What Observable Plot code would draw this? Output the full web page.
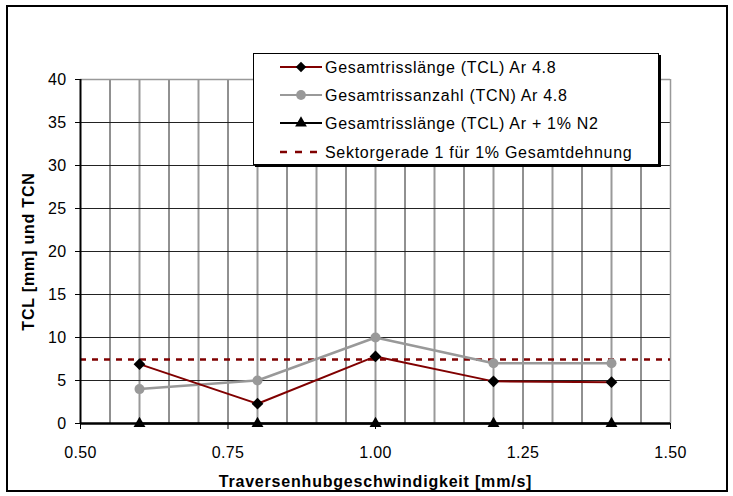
<!DOCTYPE html>
<html>
<head>
<meta charset="utf-8">
<script src="https://cdn.jsdelivr.net/npm/d3@7"></script>
<script src="https://cdn.jsdelivr.net/npm/@observablehq/plot@0.6"></script>
<style>
  html, body { margin: 0; padding: 0; background: #fff; }
  #wrap { position: relative; width: 733px; height: 496px; overflow: hidden; font-family: "Liberation Sans", Arial, sans-serif; }
  #frame { position: absolute; left: 6px; top: 5px; width: 722px; height: 487px; box-sizing: border-box; border: 2px solid #000; pointer-events: none; }
  #chart { position: absolute; left: 0; top: 0; }
  #legend { position: absolute; left: 253px; top: 53px; width: 406px; height: 112px; box-sizing: border-box; border: 1px solid #000; box-shadow: 2px 2px 0 #000; background: #fff; }
  #legend svg { position: absolute; left: 0; top: 0; }
</style>
</head>
<body>
<div id="wrap">
  <div id="chart"></div>
  <div id="legend"></div>
  <div id="frame"></div>
</div>
<script>
// ---- data ----
const speeds = [0.6, 0.8, 1.0, 1.2, 1.4];
const tclAr48 = [6.9, 2.3, 7.8, 4.9, 4.8];
const tcnAr48 = [4.0, 5.0, 10.0, 7.0, 7.0];
const tclArN2 = [0, 0, 0, 0, 0];
const sektorgerade = 7.45;
const xTicks = [0.5, 0.75, 1.0, 1.25, 1.5];
const yTicks = [0, 5, 10, 15, 20, 25, 30, 35, 40];
const gridMajorX = [0.6, 0.7, 0.8, 0.9, 1.0, 1.1, 1.2, 1.3, 1.4];
const gridMinorX = [0.55, 0.65, 0.75, 0.85, 0.95, 1.05, 1.15, 1.25, 1.35, 1.45];
const gridY = [5, 10, 15, 20, 25, 30, 35];
const seriesNames = [
  "Gesamtrisslänge (TCL) Ar 4.8",
  "Gesamtrissanzahl (TCN) Ar 4.8",
  "Gesamtrisslänge (TCL) Ar + 1% N2",
  "Sektorgerade 1 für 1% Gesamtdehnung"
];
const xTitle = "Traversenhubgeschwindigkeit [mm/s]";
const yTitle = "TCL [mm] und TCN";

const colTCL = "#800000", colTCN = "#999999", colN2 = "#000000";

const tcl = speeds.map((s, i) => ({x: s, y: tclAr48[i]}));
const tcn = speeds.map((s, i) => ({x: s, y: tcnAr48[i]}));
const n2 = speeds.map((s, i) => ({x: s, y: tclArN2[i]}));

const chart = Plot.plot({
  width: 733,
  height: 496,
  marginLeft: 80,
  marginRight: 63,
  marginTop: 79,
  marginBottom: 73,
  style: {fontFamily: "'Liberation Sans', Arial, sans-serif", fontSize: "16px", background: "transparent", color: "#000", overflow: "visible", letterSpacing: "0.4px"},
  x: {domain: [0.5, 1.5]},
  y: {domain: [0, 40]},
  marks: [
    Plot.ruleX(gridMinorX, {stroke: "#222", strokeWidth: 1}),
    Plot.ruleX(gridMajorX, {stroke: "#999", strokeWidth: 2}),
    Plot.ruleY(gridY, {stroke: "#222", strokeWidth: 1}),
    Plot.ruleY([40], {stroke: "#999", strokeWidth: 1.5}),
    Plot.ruleX([1.5], {stroke: "#999", strokeWidth: 1.5}),
    Plot.ruleY([sektorgerade], {stroke: colTCL, strokeWidth: 2.5, strokeDasharray: "6,6"}),
    Plot.axisY({ticks: yTicks, tickSize: 5, tickPadding: 9, label: null, fontSize: 16}),
    Plot.axisX({ticks: xTicks, tickFormat: d3.format(".2f"), tickSize: 6, tickPadding: 17, label: null, fontSize: 16}),
    Plot.ruleY([0], {stroke: "#000", strokeWidth: 2.5}),
    Plot.ruleX([0.5], {stroke: "#000", strokeWidth: 2}),
    Plot.line(tcn, {x: "x", y: "y", stroke: colTCN, strokeWidth: 2.5}),
    Plot.line(tcl, {x: "x", y: "y", stroke: colTCL, strokeWidth: 2}),
    Plot.line(n2, {x: "x", y: "y", stroke: colN2, strokeWidth: 2}),
    Plot.dot(tcn, {x: "x", y: "y", symbol: "circle", r: 5, fill: colTCN, stroke: "none"}),
    Plot.dot(tcl, {x: "x", y: "y", symbol: "diamond2", r: 5.3, fill: "#000", stroke: "none"}),
    Plot.dot(n2, {x: "x", y: "y", symbol: "triangle", r: 4.4, fill: "#000", stroke: "none"}),
    Plot.text([yTitle], {frameAnchor: "left", dx: -52, rotate: -90, textAnchor: "middle", lineAnchor: "middle", fontWeight: "bold", fontSize: 16, fill: "#000"}),
    Plot.text([xTitle], {frameAnchor: "bottom", dy: 58, textAnchor: "middle", lineAnchor: "middle", fontWeight: "bold", fontSize: 16, fill: "#000"})
  ]
});
d3.select(chart).selectAll("g[aria-label='text'] text").attr("letter-spacing", "0.8px");
document.getElementById("chart").appendChild(chart);

// ---- legend ----
const lg = d3.select("#legend").append("svg").attr("width", 404).attr("height", 110);
const rowsY = [13, 41, 69, 98];
const sx0 = 26, sx1 = 68, sxm = 47;
const legendItems = [
  {name: seriesNames[0], color: colTCL, sym: d3.symbolDiamond2, symFill: "#000", size: 70, dash: null},
  {name: seriesNames[1], color: colTCN, sym: d3.symbolCircle, symFill: colTCN, size: 75, dash: null},
  {name: seriesNames[2], color: colN2, sym: d3.symbolTriangle, symFill: "#000", size: 60, dash: null},
  {name: seriesNames[3], color: colTCL, sym: null, dash: "7,8"}
];
legendItems.forEach((it, i) => {
  const g = lg.append("g").attr("transform", `translate(0,${rowsY[i]})`);
  g.append("line").attr("x1", sx0).attr("x2", sx1).attr("y1", 0).attr("y2", 0)
    .attr("stroke", it.color).attr("stroke-width", it.dash ? 2.5 : 2)
    .attr("stroke-dasharray", it.dash);
  if (it.sym) {
    g.append("path").attr("d", d3.symbol(it.sym, it.size)()).attr("transform", `translate(${sxm},0)`)
      .attr("fill", it.symFill);
  }
  g.append("text").attr("x", 71).attr("y", 0).attr("dy", "0.35em")
    .attr("font-family", "'Liberation Sans', Arial, sans-serif").attr("font-size", 16)
    .attr("letter-spacing", "0.7px").attr("fill", "#000").text(it.name);
});
</script>
</body>
</html>
